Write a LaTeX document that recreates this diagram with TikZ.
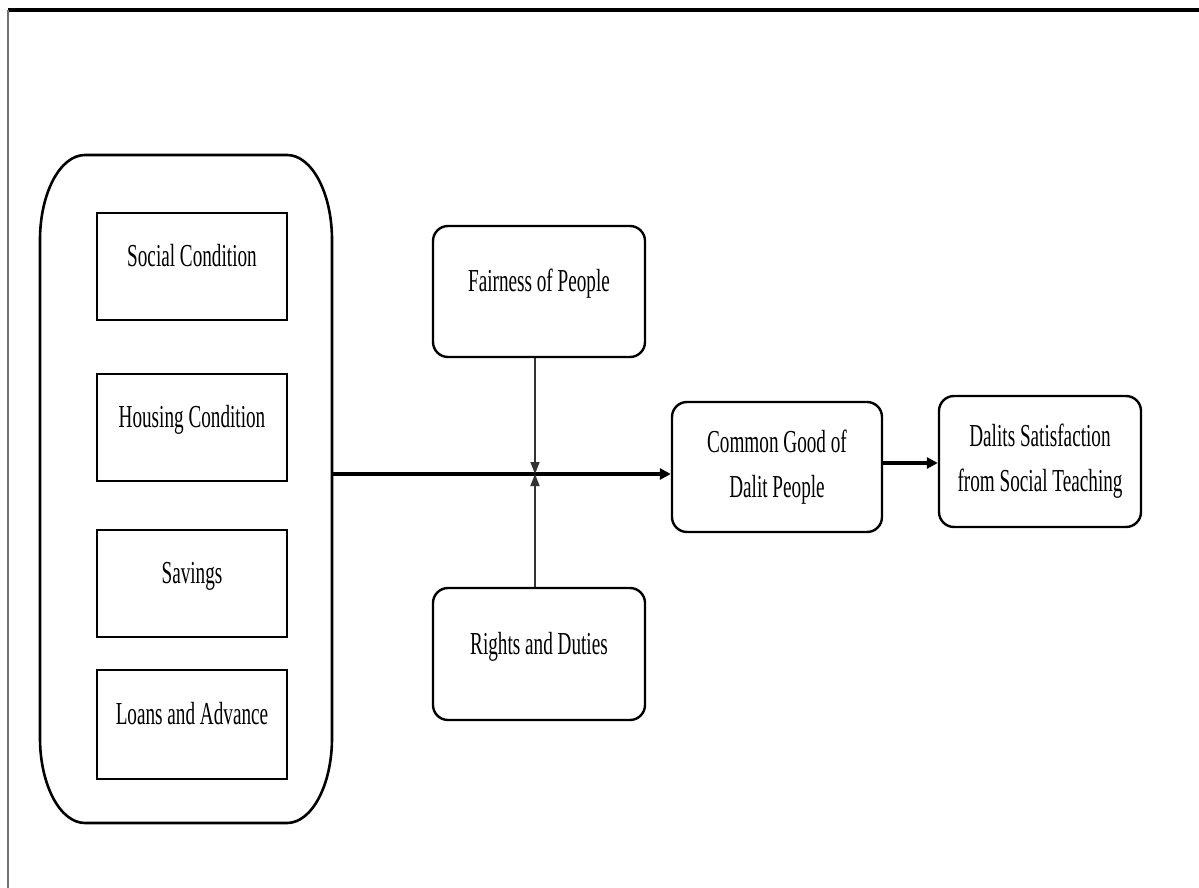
\documentclass[tikz,border=0pt]{standalone}
\usepackage{fontspec}
\setmainfont{Liberation Serif}[FakeStretch=0.6]
\usetikzlibrary{arrows.meta}
\begin{document}
\begin{tikzpicture}[x=1pt,y=-1pt,
  txt/.style={font=\fontsize{32}{45}\selectfont, text=black},
  box/.style={txt, draw, line width=2.4pt, inner sep=0pt, text height=20pt, text depth=20pt},
  rbox/.style={box, rounded corners=15pt},
  rbox2/.style={txt, draw, line width=2.4pt, inner sep=0pt, rounded corners=15pt, align=center},
  thick arrow/.style={line width=3.2pt, -{Triangle[length=11pt,width=11pt]}},
  thin arrow/.style={line width=1.5pt, black!80, -{Triangle[length=12pt,width=9pt]}}]
\useasboundingbox (0,0) rectangle (1199,888);
% frame
\draw[line width=3.5pt] (8,10) -- (1199,10);
\draw[line width=2.5pt, black!55] (8,10) -- (8,888);
% group outline
\node[minimum width=292pt, minimum height=668pt, inner sep=0pt] (group) at (186,489) {};
\draw[line width=2.6pt] (85,155) -- (287,155)
  arc[start angle=-90, end angle=0, x radius=45, y radius=85] -- (332,738)
  arc[start angle=0, end angle=90, x radius=45, y radius=85] -- (85,823)
  arc[start angle=90, end angle=180, x radius=45, y radius=85] -- (40,240)
  arc[start angle=180, end angle=270, x radius=45, y radius=85] -- cycle;
% inner boxes
\node[box, minimum width=190pt, minimum height=107pt] (social) at (192,266.5) {Social Condition};
\node[box, minimum width=190pt, minimum height=107pt] (housing) at (192,427.5) {Housing Condition};
\node[box, minimum width=190pt, minimum height=107pt] (savings) at (192,583.5) {Savings};
\node[box, minimum width=190pt, minimum height=109pt] (loans) at (192,724.5) {Loans and Advance};
% moderators
\node[rbox, minimum width=212pt, minimum height=131pt] (fair) at (539,291.5) {Fairness of People};
\node[rbox, minimum width=212pt, minimum height=132pt] (rights) at (539,654) {Rights and Duties};
% outcomes
\node[rbox2, minimum width=210pt, minimum height=130pt] (common) at (777,467) {Common Good of\\Dalit People};
\node[rbox2, minimum width=202pt, minimum height=131pt] (dalits) at (1040,461.5) {Dalits Satisfaction\\from Social Teaching};
% connectors
\coordinate (j) at (535,474);
\coordinate (k) at (900,463);
\draw[thick arrow] (group.east |- j) -- (common.west |- j);
\draw[thin arrow] (fair.south -| j) -- (j);
\draw[thin arrow] (rights.north -| j) -- (j);
\draw[thick arrow] (common.east |- k) -- (dalits.west |- k);
\end{tikzpicture}
\end{document}
